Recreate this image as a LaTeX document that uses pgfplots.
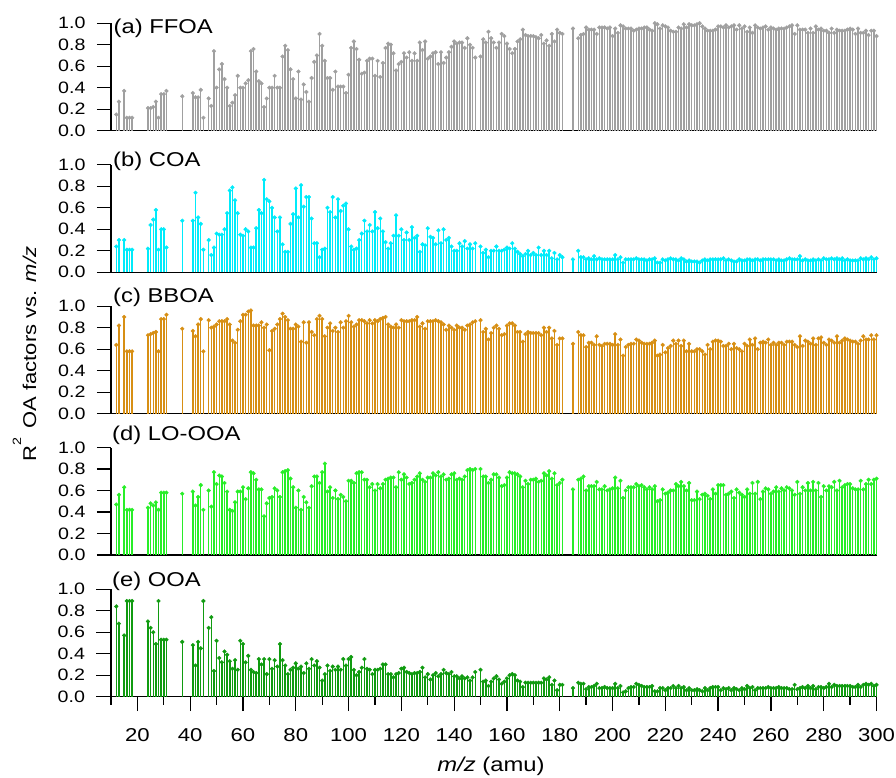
\documentclass[border=0pt]{standalone}
\usepackage{fontspec}
\setmainfont{Liberation Sans}[FakeStretch=1.19]
\usepackage{pgfplots}
\pgfplotsset{compat=1.18}
\usepackage{pgfplotstable}

\definecolor{cffoa}{RGB}{160,160,160}
\definecolor{ccoa}{RGB}{0,235,250}
\definecolor{cbboa}{RGB}{215,143,20}
\definecolor{clo}{RGB}{40,238,40}
\definecolor{cooa}{RGB}{16,155,16}

% R^2 of each OA factor against each m/z
\pgfplotstableread{
mz a b c d e
12 .15 .24 .64 .47 .84
13 .27 .30 .82 .56 .68
15 .37 .30 .90 .63 .57
16 .12 .21 .58 .42 .89
17 .12 .21 .58 .42 .89
18 .12 .21 .58 .42 .89
24 .21 .22 .73 .44 .70
25 .21 .44 .74 .48 .64
26 .22 .49 .75 .46 .60
27 .27 .58 .76 .49 .49
28 .12 .21 .58 .42 .89
29 .34 .40 .88 .58 .53
30 .34 .40 .88 .58 .53
31 .37 .23 .92 .58 .53
37 .32 .48 .79 .57 .51
41 .35 .48 .77 .59 .48
42 .31 .74 .72 .46 .29
43 .31 .51 .83 .54 .51
44 .38 .45 .88 .65 .45
45 .12 .21 .58 .42 .89
47 .30 .30 .87 .60 .64
48 .23 .16 .80 .45 .74
49 .74 .23 .81 .77 .24
50 .40 .36 .83 .66 .52
51 .57 .35 .86 .74 .36
52 .62 .35 .86 .73 .32
53 .48 .40 .86 .67 .42
54 .40 .55 .88 .59 .39
55 .23 .76 .83 .42 .33
56 .26 .79 .68 .41 .26
57 .33 .67 .66 .49 .34
58 .51 .55 .78 .59 .25
59 .40 .35 .86 .59 .52
60 .40 .34 .92 .63 .49
61 .44 .40 .92 .52 .32
62 .47 .38 .95 .62 .38
63 .74 .23 .96 .77 .25
64 .76 .23 .82 .76 .23
65 .55 .41 .82 .70 .22
66 .46 .58 .82 .61 .35
67 .44 .55 .85 .61 .30
68 .22 .86 .80 .36 .35
69 .30 .68 .83 .48 .21
70 .40 .66 .59 .53 .35
71 .40 .60 .77 .54 .26
72 .51 .51 .79 .62 .34
73 .40 .38 .83 .60 .28
74 .40 .51 .88 .54 .49
75 .69 .26 .93 .77 .34
76 .79 .19 .90 .78 .29
77 .75 .19 .87 .79 .21
78 .57 .45 .79 .71 .25
79 .48 .54 .79 .63 .27
80 .30 .78 .83 .44 .31
81 .55 .51 .81 .60 .26
82 .29 .81 .67 .42 .28
83 .43 .61 .85 .54 .22
84 .36 .70 .66 .49 .31
85 .27 .70 .85 .44 .26
86 .49 .50 .76 .64 .35
87 .64 .27 .73 .73 .29
88 .70 .27 .88 .73 .33
89 .90 .14 .91 .67 .27
90 .79 .21 .88 .77 .15
91 .65 .22 .72 .85 .21
92 .49 .60 .80 .59 .29
93 .49 .56 .84 .63 .24
94 .38 .70 .77 .53 .28
95 .55 .51 .80 .60 .25
96 .41 .68 .76 .52 .28
97 .41 .57 .85 .56 .25
98 .41 .62 .80 .54 .35
99 .35 .64 .86 .50 .29
100 .52 .40 .91 .69 .35
101 .77 .24 .85 .69 .37
102 .83 .21 .81 .67 .25
103 .76 .22 .83 .76 .20
104 .66 .30 .87 .77 .23
105 .53 .36 .87 .77 .27
106 .54 .48 .86 .70 .35
107 .65 .38 .84 .70 .26
108 .67 .44 .87 .63 .25
109 .67 .38 .84 .66 .21
110 .51 .56 .87 .60 .25
111 .65 .41 .86 .66 .25
112 .50 .50 .88 .62 .26
113 .63 .38 .89 .66 .30
114 .77 .28 .90 .70 .30
115 .81 .22 .83 .71 .21
116 .80 .27 .81 .72 .21
117 .72 .34 .80 .72 .18
118 .56 .53 .83 .63 .21
119 .62 .34 .80 .77 .22
120 .64 .40 .87 .70 .26
121 .72 .30 .86 .75 .27
122 .68 .37 .86 .72 .23
123 .73 .30 .86 .66 .22
124 .65 .42 .87 .67 .21
125 .72 .32 .87 .70 .22
126 .65 .34 .90 .73 .22
127 .82 .19 .81 .76 .23
128 .75 .26 .84 .70 .27
129 .83 .25 .79 .68 .18
130 .67 .41 .86 .72 .21
131 .69 .33 .86 .72 .16
132 .72 .32 .86 .76 .20
133 .73 .26 .87 .74 .22
134 .62 .39 .86 .77 .19
135 .73 .27 .85 .73 .21
136 .63 .40 .83 .75 .25
137 .68 .30 .78 .70 .22
138 .73 .32 .82 .71 .21
139 .78 .24 .80 .75 .23
140 .83 .20 .78 .76 .19
141 .81 .20 .82 .70 .19
142 .82 .27 .80 .71 .17
143 .82 .24 .80 .70 .19
144 .77 .29 .78 .73 .17
145 .86 .22 .82 .79 .18
146 .80 .26 .83 .80 .15
147 .77 .22 .85 .79 .18
148 .68 .27 .86 .80 .23
150 .69 .24 .87 .80 .25
151 .85 .18 .76 .73 .14
152 .82 .21 .79 .73 .15
153 .92 .14 .69 .67 .10
154 .86 .20 .75 .70 .14
155 .82 .20 .80 .75 .17
156 .77 .24 .82 .75 .19
157 .82 .20 .79 .72 .16
158 .90 .20 .73 .64 .12
159 .88 .21 .74 .65 .14
160 .81 .23 .82 .72 .17
161 .76 .22 .84 .77 .20
162 .72 .27 .84 .76 .21
163 .76 .22 .82 .76 .20
164 .83 .19 .76 .75 .15
165 .85 .17 .76 .73 .14
166 .94 .15 .67 .63 .09
167 .89 .17 .74 .69 .13
168 .88 .20 .76 .66 .13
169 .88 .16 .75 .70 .13
170 .88 .18 .75 .70 .13
171 .87 .16 .75 .71 .13
172 .86 .23 .75 .68 .13
173 .89 .16 .73 .69 .13
174 .81 .20 .80 .76 .17
175 .84 .16 .76 .74 .16
176 .79 .20 .80 .78 .18
177 .90 .13 .70 .71 .11
178 .83 .18 .77 .76 .15
179 .94 .12 .64 .65 .06
180 .91 .16 .70 .67 .11
181 .90 .14 .70 .70 .11
185 .95 .12 .65 .61 .08
187 .86 .20 .76 .70 .13
188 .89 .14 .73 .71 .12
189 .90 .14 .73 .73 .12
190 .96 .12 .62 .60 .07
191 .94 .13 .66 .64 .09
192 .94 .12 .66 .64 .09
193 .94 .15 .64 .64 .10
194 .90 .12 .72 .68 .12
195 .96 .13 .64 .61 .08
196 .96 .12 .63 .61 .08
197 .96 .12 .65 .64 .09
198 .95 .12 .65 .60 .08
199 .96 .12 .65 .61 .08
200 .88 .12 .64 .62 .08
201 .95 .16 .74 .72 .12
202 .91 .12 .64 .62 .08
203 .98 .14 .69 .69 .10
204 .97 .09 .54 .53 .04
205 .95 .12 .62 .60 .05
206 .95 .12 .64 .63 .08
207 .95 .12 .65 .63 .09
208 .93 .12 .65 .63 .09
209 .94 .13 .69 .66 .12
210 .95 .12 .68 .64 .11
211 .95 .12 .66 .65 .10
212 .96 .12 .65 .63 .09
213 .96 .11 .65 .61 .09
214 .94 .12 .65 .63 .09
215 .93 .12 .66 .61 .10
216 1.00 .13 .68 .64 .05
217 .99 .09 .54 .50 .05
218 .95 .09 .55 .51 .08
219 .98 .12 .64 .61 .08
220 .97 .11 .57 .57 .06
221 .96 .12 .61 .58 .08
222 .93 .13 .63 .60 .08
223 .92 .12 .68 .60 .10
224 .92 .12 .65 .66 .08
225 .96 .11 .68 .64 .10
226 .95 .13 .63 .68 .08
227 .99 .12 .68 .64 .09
228 .96 .10 .58 .60 .06
229 .99 .11 .65 .67 .08
230 .98 .10 .58 .51 .06
231 .98 .10 .58 .51 .06
232 .99 .10 .60 .59 .07
233 1.00 .09 .60 .52 .06
234 .97 .11 .58 .56 .05
235 .95 .12 .55 .57 .08
236 .93 .11 .64 .55 .06
237 .93 .12 .60 .52 .08
238 .93 .12 .67 .61 .09
239 .94 .12 .68 .57 .09
240 .97 .12 .68 .65 .09
241 .97 .12 .67 .65 .06
242 .96 .13 .63 .65 .08
243 .98 .11 .63 .56 .07
244 .96 .12 .65 .57 .08
245 .97 .11 .60 .59 .06
246 .98 .10 .65 .53 .08
247 .94 .10 .61 .61 .07
248 .98 .12 .60 .58 .06
249 .95 .11 .58 .56 .08
250 .97 .11 .65 .54 .07
251 .92 .12 .63 .61 .10
252 .96 .12 .69 .57 .08
253 .91 .11 .64 .67 .09
254 .98 .12 .70 .57 .06
255 .96 .12 .60 .68 .08
256 .95 .11 .66 .52 .08
257 .96 .12 .67 .59 .08
258 .97 .12 .66 .62 .08
259 .94 .12 .69 .61 .09
260 .96 .12 .64 .57 .08
261 .95 .12 .66 .59 .08
262 .94 .11 .64 .63 .08
263 .95 .12 .66 .59 .09
264 .95 .11 .66 .62 .08
265 .95 .11 .64 .60 .08
266 .96 .12 .67 .63 .08
267 .97 .13 .67 .62 .07
268 .98 .12 .67 .60 .07
269 .90 .12 .64 .56 .11
270 .98 .12 .62 .68 .07
271 .94 .15 .72 .57 .08
272 .94 .11 .63 .63 .09
273 .94 .12 .68 .60 .08
274 .91 .11 .67 .67 .10
275 .95 .11 .65 .60 .08
276 .91 .12 .70 .68 .10
277 .97 .11 .64 .60 .07
278 .94 .12 .70 .67 .09
279 .95 .11 .71 .54 .09
280 .93 .13 .66 .64 .08
281 .93 .12 .64 .60 .09
282 .91 .12 .69 .64 .12
283 .95 .13 .68 .63 .09
284 .91 .12 .66 .68 .11
285 .94 .13 .72 .60 .10
286 .93 .12 .66 .69 .10
287 .93 .13 .68 .63 .10
288 .93 .11 .70 .65 .10
289 .94 .12 .69 .66 .10
290 .95 .11 .68 .66 .10
291 .94 .11 .67 .62 .09
292 .90 .11 .67 .61 .09
293 .95 .11 .65 .61 .11
294 .91 .13 .68 .69 .09
295 .91 .12 .72 .61 .11
296 .93 .13 .69 .66 .12
297 .89 .12 .69 .70 .11
298 .93 .14 .73 .66 .12
299 .93 .12 .69 .70 .10
300 .88 .13 .73 .71 .11
}\spectra

\pgfplotsset{
  panel/.style={
    scale only axis, width=765.5bp, height=107.5bp,
    anchor=south west,
    xmin=10, xmax=300, ymin=0, ymax=1,
    clip=false,
    axis x line*=bottom, axis y line*=left,
    axis line style={line width=1.3bp, black},
    every tick/.style={black, line width=1.3bp},
    tick align=outside,
    major tick length=14bp,
    minor tick length=8bp,
    ytick={0,0.2,0.4,0.6,0.8,1},
    /pgf/number format/assume math mode=true,
    yticklabel style={font=\fontsize{16.5bp}{18bp}\selectfont,
      anchor=east, xshift=-8bp,
      /pgf/number format/fixed, /pgf/number format/fixed zerofill,
      /pgf/number format/precision=1},
    xtick=\empty,
  },
  stem/.style={ycomb, draw=#1, line width=1.45bp, mark=*, mark size=1.9bp,
    mark options={fill=#1, draw=#1, line width=0.4bp}},
}

\begin{document}
\begin{tikzpicture}
\useasboundingbox (0bp,0bp) rectangle (896bp,-778bp);

\begin{axis}[panel, at={(111bp,-130.7bp)}]
  \addplot[stem=cffoa] table[x=mz, y=a] {\spectra};
\end{axis}

\begin{axis}[panel, at={(111bp,-272.3bp)}]
  \addplot[stem=ccoa] table[x=mz, y=b] {\spectra};
\end{axis}

\begin{axis}[panel, at={(111bp,-413.7bp)}]
  \addplot[stem=cbboa] table[x=mz, y=c] {\spectra};
\end{axis}

\begin{axis}[panel, at={(111bp,-555bp)}]
  \addplot[stem=clo] table[x=mz, y=d] {\spectra};
\end{axis}

\begin{axis}[panel, at={(111bp,-696.7bp)},
  xtick={20,40,...,300}, minor xtick={10,30,...,290},
  major tick length=14.5bp,
  xticklabel style={font=\fontsize{18.6bp}{20bp}\selectfont, yshift=-14bp}]
  \addplot[stem=cooa] table[x=mz, y=e] {\spectra};
\end{axis}

% panel titles
\begin{scope}[every node/.style={anchor=base west, inner sep=0pt,
    font=\fontsize{20bp}{24bp}\selectfont}]
  \node at (113.5bp,-33.3bp) {(a) FFOA};
  \node at (113bp,-166.7bp) {(b) COA};
  \node at (113bp,-302.7bp) {(c) BBOA};
  \node at (112bp,-440.7bp) {(d) LO-OOA};
  \node at (112bp,-586bp) {(e) OOA};
\end{scope}

% axis titles
\node[rotate=90, anchor=base, inner sep=0pt, font=\fontsize{18.5bp}{22bp}\selectfont]
  at (36bp,-354bp) {R\raisebox{0.8em}{\fontsize{12bp}{14bp}\selectfont 2}\hspace{0.15em} OA factors vs. \textit{m/z}};
\node[anchor=base, inner sep=0pt, font=\fontsize{20bp}{24bp}\selectfont]
  at (491bp,-771bp) {\textit{m/z} (amu)};
\end{tikzpicture}
\end{document}
